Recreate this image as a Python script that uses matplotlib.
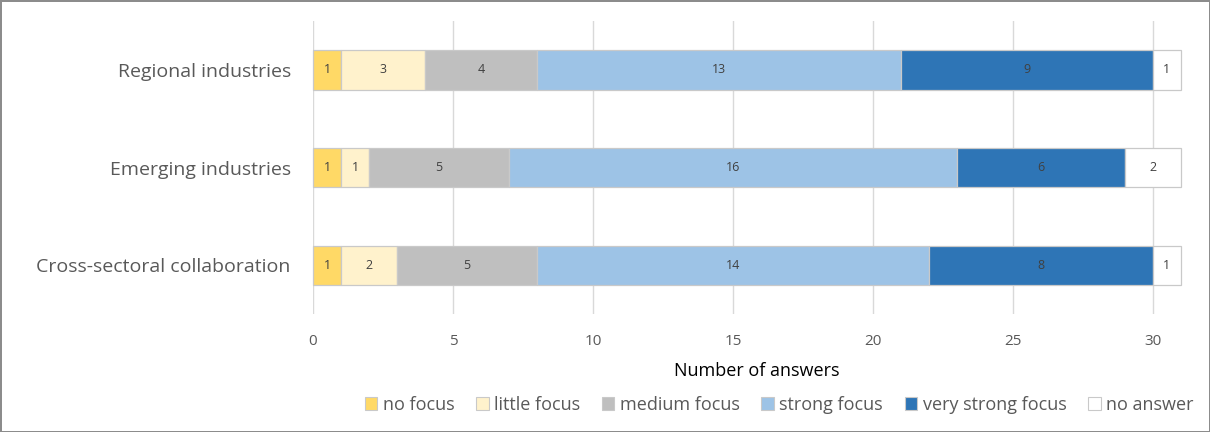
import numpy as np
import matplotlib.pyplot as plt
from matplotlib.patches import Patch

plt.rcParams['font.family'] = ['Open Sans', 'DejaVu Sans']

categories = ['Regional industries', 'Emerging industries', 'Cross-sectoral collaboration']
levels = ['no focus', 'little focus', 'medium focus', 'strong focus', 'very strong focus', 'no answer']
no_focus = [1, 1, 1]
little_focus = [3, 1, 2]
medium_focus = [4, 5, 5]
strong_focus = [13, 16, 14]
very_strong_focus = [9, 6, 8]
no_answer = [1, 2, 1]

series = [no_focus, little_focus, medium_focus, strong_focus, very_strong_focus, no_answer]
colors = ['#ffd966', '#fff2cc', '#bfbfbf', '#9dc3e6', '#2e75b6', '#ffffff']

fig = plt.figure(figsize=(12.1, 4.32), dpi=100)
fig.patch.set_edgecolor('#8c8c8c')
fig.patch.set_linewidth(2)
ax = fig.add_axes([0.2587, 0.273, 0.7173, 0.678])

y = np.arange(len(categories))
left = np.zeros(len(categories))
for vals, color, name in zip(series, colors, levels):
    vals = np.array(vals, dtype=float)
    bars = ax.barh(y, vals, left=left, height=0.4, color=color,
                   edgecolor='#c9c9c9', linewidth=0.9, label=name, zorder=3,
                   clip_on=False)
    for b, v in zip(bars, vals):
        ax.text(b.get_x() + b.get_width() / 2, b.get_y() + b.get_height() / 2,
                f'{int(v)}', ha='center', va='center', fontsize=9,
                color='#404040', zorder=4)
    left += vals

ax.set_xlim(0, 31)
ax.set_ylim(2.5, -0.5)
ax.set_yticks(y)
ax.set_yticklabels(categories, fontsize=14, color='#595959')
ax.set_xticks(range(0, 31, 5))
ax.tick_params(axis='x', labelsize=11, colors='#595959', length=0, pad=14)
ax.tick_params(axis='y', length=0, pad=16)
ax.grid(axis='x', color='#d9d9d9', linewidth=1, zorder=0)
for spine in ax.spines.values():
    spine.set_visible(False)

ax.set_xlabel('Number of answers', fontsize=13, color='#000000', labelpad=10)
ax.xaxis.label.set_x(0.511)

handles = [Patch(facecolor=c, edgecolor='#c9c9c9', linewidth=0.8) for c in colors]
fig.legend(handles, levels, loc='center right', bbox_to_anchor=(1.0, 0.063),
           ncol=6, frameon=False, fontsize=13, handlelength=0.7,
           handleheight=0.7, handletextpad=0.3, columnspacing=1.2,
           labelcolor='#595959')

fig.savefig('out.png', dpi=100)
